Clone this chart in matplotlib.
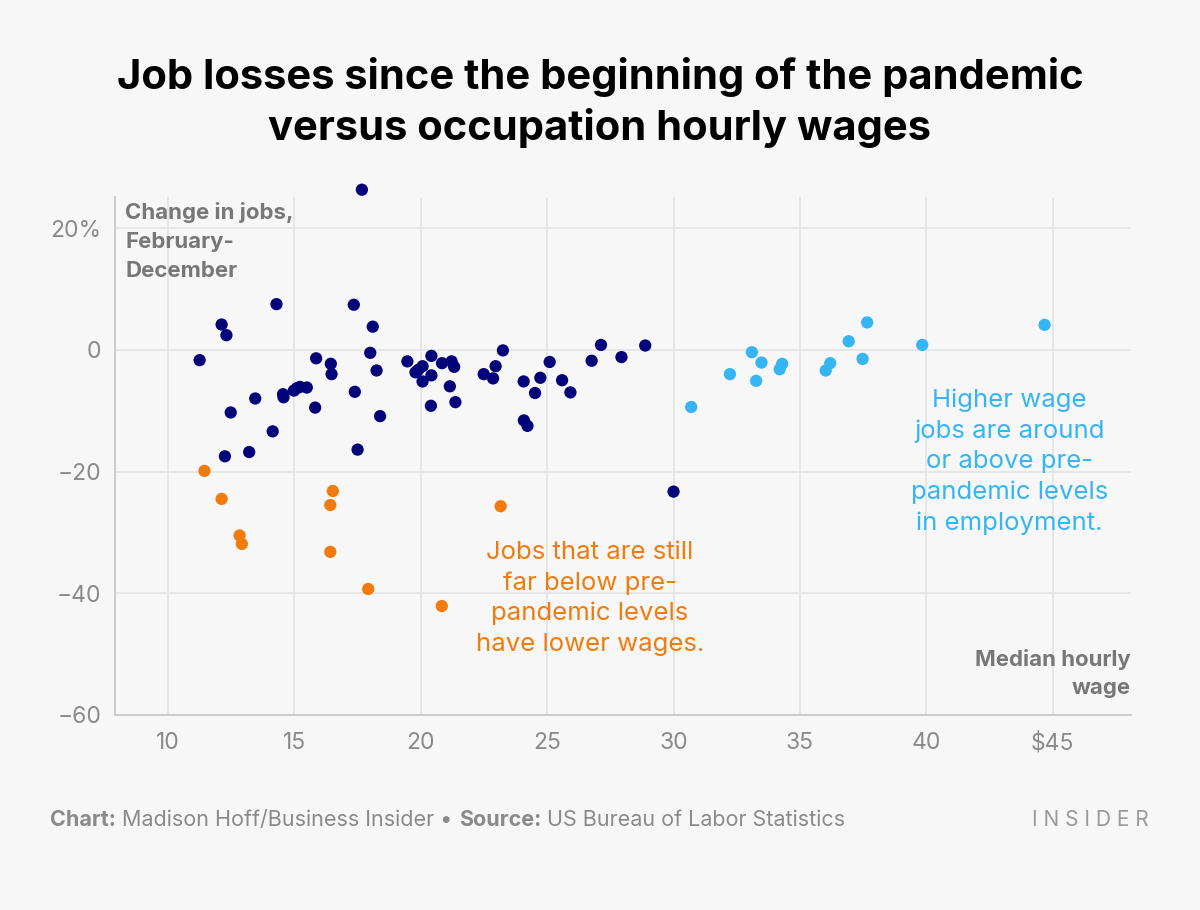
import matplotlib.pyplot as plt

# median hourly wage ($) and change in jobs Feb-Dec (%)
navy_wage = [11.25, 12.12, 12.31, 12.48, 12.25, 13.45, 13.21, 14.14, 14.29, 14.55,
             14.57, 14.98, 15.1, 15.22, 15.49, 15.86, 15.82, 16.44, 16.47, 17.35,
             17.39, 17.5, 17.67, 18.1, 18.0, 18.25, 18.39, 19.47, 19.79, 19.9,
             20.07, 20.07, 20.42, 20.42, 20.4, 20.84, 21.22, 21.32, 21.15, 21.37,
             22.49, 22.86, 22.96, 23.25, 24.07, 24.08, 24.22, 24.52, 24.73, 25.1,
             25.59, 25.92, 26.76, 27.13, 27.94, 28.88, 30.0]
navy_change = [-1.7, 4.15, 2.4, -10.3, -17.5, -8.0, -16.8, -13.4, 7.5, -7.3,
               -7.8, -6.7, -6.3, -6.1, -6.2, -1.4, -9.5, -2.3, -4.0, 7.4,
               -6.9, -16.4, 26.3, 3.8, -0.5, -3.4, -10.9, -1.9, -3.7, -3.3,
               -2.7, -5.2, -1.0, -4.2, -9.2, -2.2, -1.9, -2.8, -6.0, -8.6,
               -4.0, -4.7, -2.7, -0.1, -5.2, -11.6, -12.5, -7.1, -4.6, -2.0,
               -5.0, -7.0, -1.8, 0.8, -1.2, 0.7, -23.3]

orange_wage = [11.44, 12.12, 12.83, 12.92, 16.52, 16.42, 16.42, 17.92, 20.83, 23.16]
orange_change = [-19.9, -24.5, -30.5, -31.9, -23.2, -25.5, -33.2, -39.3, -42.1, -25.7]

light_wage = [30.7, 32.23, 33.1, 33.48, 33.27, 34.3, 34.2, 36.2, 36.02, 36.93,
              37.66, 37.48, 39.84, 44.68]
light_change = [-9.4, -4.0, -0.4, -2.1, -5.1, -2.3, -3.2, -2.2, -3.4, 1.4,
                4.5, -1.5, 0.8, 4.1]

x_ticks = [10, 15, 20, 25, 30, 35, 40, 45]
x_labels = ['10', '15', '20', '25', '30', '35', '40', '$45']
y_ticks = [-60, -40, -20, 0, 20]
y_labels = ['\u221260', '\u221240', '\u221220', '0', '20%']

NAVY = '#03037a'
ORANGE = '#f17b0c'
LIGHT = '#35b5f4'
BG = '#f7f7f7'
GREY = '#777777'

plt.rcParams['font.family'] = ['Inter', 'DejaVu Sans']

fig = plt.figure(figsize=(12, 9.1), dpi=100, facecolor=BG)
ax = fig.add_axes([0.0958, 0.2143, 0.8467, 0.5692])
ax.set_facecolor(BG)

for w, c, col in [(navy_wage, navy_change, NAVY),
                  (orange_wage, orange_change, ORANGE),
                  (light_wage, light_change, LIGHT)]:
    ax.scatter(w, c, s=78, color=col, edgecolors='none', zorder=3, clip_on=False)

ax.set_xlim(7.9, 48.1)
ax.set_ylim(-60, 25.1)
ax.set_xticks(x_ticks, x_labels)
ax.set_yticks(y_ticks, y_labels)
ax.tick_params(length=0, labelsize=16.5, labelcolor='#8a8a8a', pad=12)
ax.tick_params(axis='y', pad=10)
ax.grid(True, color='#e3e3e3', linewidth=1.2)
ax.set_axisbelow(True)
for s in ['top', 'right']:
    ax.spines[s].set_visible(False)
for s in ['left', 'bottom']:
    ax.spines[s].set_color('#cccccc')
    ax.spines[s].set_linewidth(1.5)

ax.text(0.01, 0.99, 'Change in jobs,\nFebruary-\nDecember', transform=ax.transAxes,
        ha='left', va='top', fontsize=16, fontweight='bold', color=GREY,
        linespacing=1.55)
ax.text(1.0, 0.032, 'Median hourly\nwage', transform=ax.transAxes,
        ha='right', va='bottom', fontsize=16, fontweight='bold', color=GREY,
        linespacing=1.55)

ax.text(26.7, -40.8, 'Jobs that are still\nfar below pre-\npandemic levels\nhave lower wages.',
        ha='center', va='center', fontsize=18.5, color=ORANGE, linespacing=1.4)
ax.text(43.3, -18.4, 'Higher wage\njobs are around\nor above pre-\npandemic levels\nin employment.',
        ha='center', va='center', fontsize=18.5, color=LIGHT, linespacing=1.4)

fig.text(0.5, 0.887, 'Job losses since the beginning of the pandemic\nversus occupation hourly wages',
         ha='center', va='center', fontsize=30, fontweight='bold', color='black',
         linespacing=1.35)

# footer, pieces chained one after another
t = fig.text(0.042, 0.092, 'Chart:', fontsize=15.5, fontweight='bold', color='#8a8a8a',
             ha='left', va='baseline')
for txt, wt in [(' Madison Hoff/Business Insider \u2022 ', 'normal'),
                ('Source:', 'bold'),
                (' US Bureau of Labor Statistics', 'normal')]:
    t = ax.annotate(txt, xy=(1, 0), xycoords=t, ha='left', va='bottom',
                    fontsize=15.5, fontweight=wt, color='#8a8a8a', annotation_clip=False)

fig.text(0.957, 0.092, 'I N S I D E R', ha='right', va='baseline', fontsize=15,
         color='#999999')

fig.savefig('out.png', dpi=100, facecolor=BG)
